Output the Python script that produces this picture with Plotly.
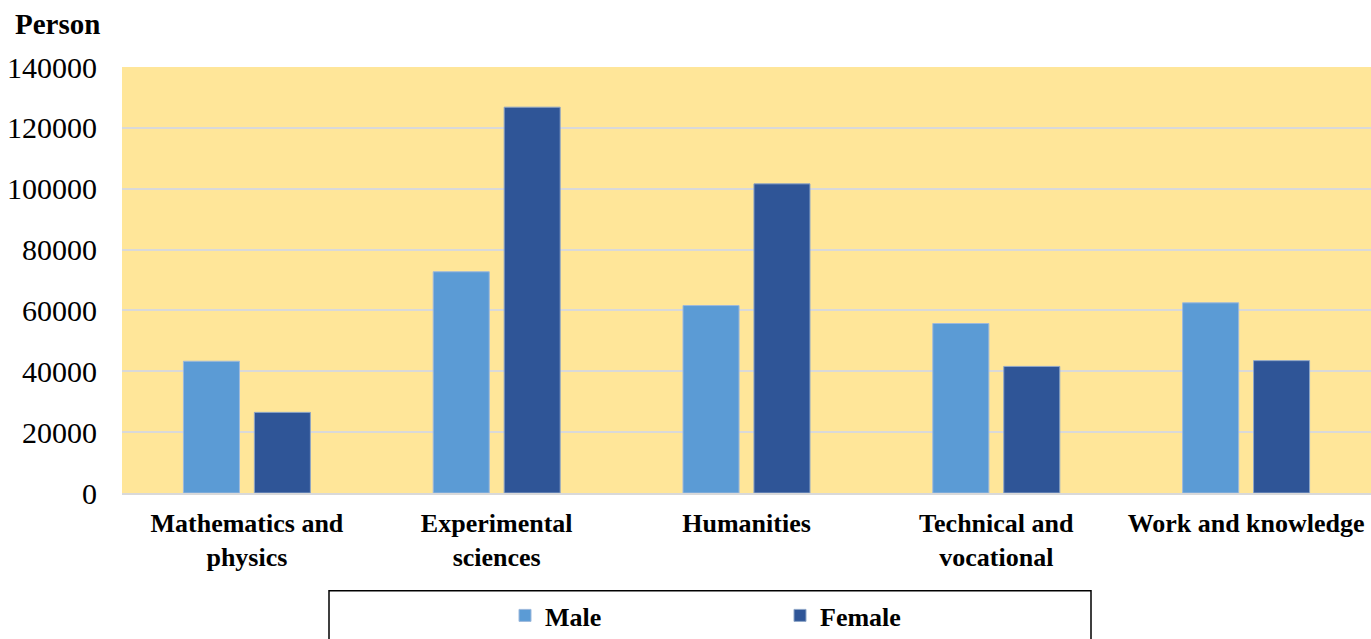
import plotly.graph_objects as go

categories = ["Mathematics and<br>physics", "Experimental<br>sciences", "Humanities",
              "Technical and<br>vocational", "Work and knowledge"]
male = [43300, 72700, 61600, 55700, 62500]
female = [26500, 126800, 101600, 41600, 43500]
y_ticks = [0, 20000, 40000, 60000, 80000, 100000, 120000, 140000]

W, H = 1371, 639
ML, MR, MT, MB = 122, 0, 67, 145
pw, ph = W - ML - MR, H - MT - MB

fig = go.Figure()
fig.add_trace(go.Bar(name="Male", x=categories, y=male,
                     marker=dict(color="#5B9BD5", line=dict(color="#9DB9DC", width=1))))
fig.add_trace(go.Bar(name="Female", x=categories, y=female,
                     marker=dict(color="#2F5597", line=dict(color="#8EA6C8", width=1))))

serif = "Liberation Serif, Times New Roman, serif"
fig.update_layout(
    width=W, height=H,
    margin=dict(l=ML, r=MR, t=MT, b=MB),
    paper_bgcolor="white", plot_bgcolor="#FFE699",
    barmode="group", bargap=0.432, bargroupgap=0.21,
    font=dict(family=serif, color="black"),
    showlegend=True,
    legend=dict(orientation="h", x=(505 - ML) / pw, xanchor="left",
                y=-(617 - 494) / ph, yanchor="middle",
                entrywidth=230, entrywidthmode="pixels",
                font=dict(family=serif, size=26, color="black", weight="bold"),
                bgcolor="rgba(0,0,0,0)", borderwidth=0),
    xaxis=dict(showgrid=False, showline=True, linecolor="#D9D9D9", linewidth=2,
               ticks="", ticklabelstandoff=6,
               tickfont=dict(family=serif, size=26, color="black", weight="bold"),
               fixedrange=True),
    yaxis=dict(range=[0, 140000], tickvals=y_ticks, ticktext=[str(v) for v in y_ticks],
               showgrid=True, gridcolor="#D9D9D9", gridwidth=2, zeroline=False,
               showline=False, ticks="", ticklabelstandoff=24,
               tickfont=dict(family=serif, size=30, color="black")),
    annotations=[dict(text="<b>Person</b>", xref="paper", yref="paper",
                      x=-(ML - 13) / pw, y=1 + (67 - 24) / ph, xanchor="left", yanchor="middle",
                      showarrow=False, font=dict(family=serif, size=29, color="black"))],
    shapes=[dict(type="rect", xref="paper", yref="paper",
                 x0=(329 - ML) / pw, x1=(1091 - ML) / pw,
                 y0=-(592 - 494) / ph, y1=-(660 - 494) / ph,
                 line=dict(color="black", width=1.5), fillcolor="rgba(0,0,0,0)")],
)
fig.write_html("out.html", config={"displayModeBar": False},
               post_script="document.body.style.margin='0';document.body.style.overflow='hidden';")
